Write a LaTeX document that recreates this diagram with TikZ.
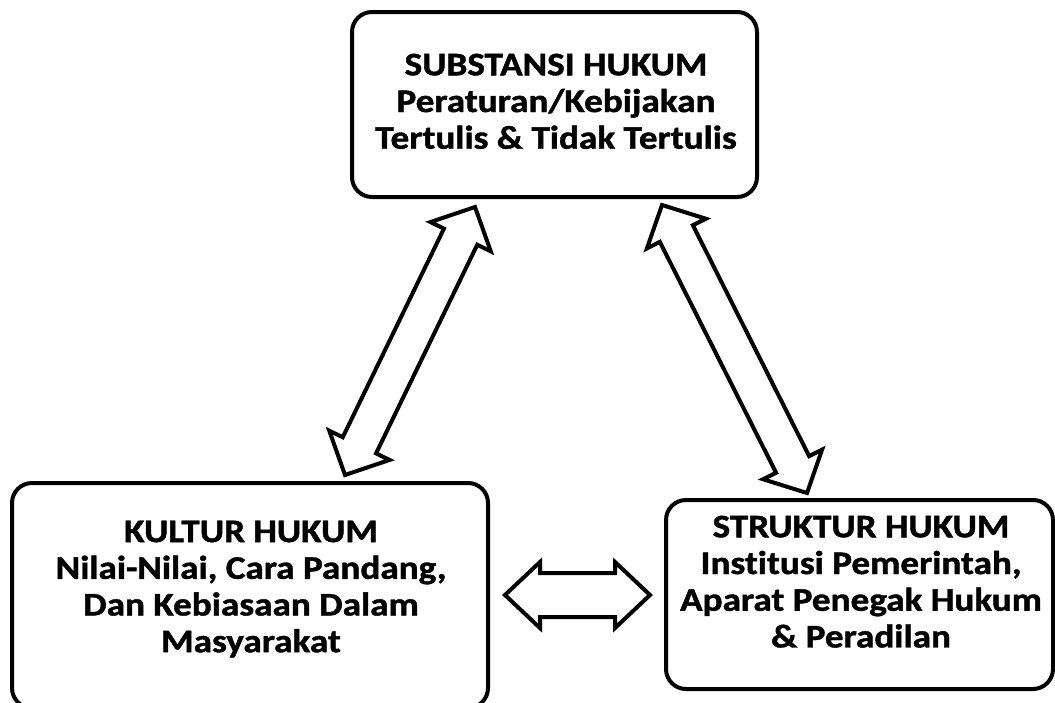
\documentclass[tikz,border=0pt]{standalone}
\usepackage{fontspec}
\setmainfont{Carlito}[Ligatures=NoCommon,BoldFeatures={FakeBold=1.2}]
\usetikzlibrary{calc}
\newcommand\dblblock[5]{%
  \draw[blockarr] (#1)
   -- ($(#1)!#3!(#2)!#4!90:(#2)$)
   -- ($(#1)!#3!(#2)!#5!90:(#2)$)
   -- ($(#2)!#3!(#1)!#5!-90:(#1)$)
   -- ($(#2)!#3!(#1)!#4!-90:(#1)$)
   -- (#2)
   -- ($(#2)!#3!(#1)!#4!90:(#1)$)
   -- ($(#2)!#3!(#1)!#5!90:(#1)$)
   -- ($(#1)!#3!(#2)!#5!-90:(#2)$)
   -- ($(#1)!#3!(#2)!#4!-90:(#2)$)
   -- cycle;}
\begin{document}
\begin{tikzpicture}[x=1pt,y=-1pt,
  box/.style={draw=black,line width=4pt,rounded corners=20pt,inner sep=0pt,fill=white},
  lbl/.style={anchor=north,inner sep=0pt,align=center,xscale=1.127,font=\fontsize{33}{36.7}\selectfont\bfseries},
  blockarr/.style={draw=black,fill=white,line width=4pt,line join=miter}]
\fill[white] (0,0) rectangle (1055,702);
\useasboundingbox (0,0) rectangle (1055,702);
\clip (0,0) rectangle (1055,702);
% boxes
\node[box,minimum width=405pt,minimum height=185pt] (sub) at (554.5,104.5) {};
\node[box,minimum width=476pt,minimum height=225pt] (kul) at (250,595.5) {};
\node[box,minimum width=387pt,minimum height=189pt] (str) at (859.5,594.5) {};
% texts
\node[lbl] (tsub) at (556,53.5) {SUBSTANSI HUKUM\\Peraturan/Kebijakan\\Tertulis \& Tidak Tertulis};
\node[lbl] (tkul) at (251,520.5) {KULTUR HUKUM\\Nilai-Nilai, Cara Pandang,\\Dan Kebiasaan Dalam\\Masyarakat};
\node[lbl] (tstr) at (861,515.5) {STRUKTUR HUKUM\\Institusi Pemerintah,\\Aparat Penegak Hukum\\\& Peradilan};
% arrow ends
\coordinate (a1) at (345,475);
\coordinate (b1) at (475,207);
\coordinate (a2) at (662,205);
\coordinate (b2) at (807,493);
\coordinate (a3) at (505,595);
\coordinate (b3) at (650,595);
\dblblock{a1}{b1}{33pt}{33.5pt}{18.5pt}
\dblblock{a2}{b2}{32pt}{33pt}{18.5pt}
\dblblock{a3}{b3}{35pt}{33pt}{22pt}
\end{tikzpicture}
\end{document}
